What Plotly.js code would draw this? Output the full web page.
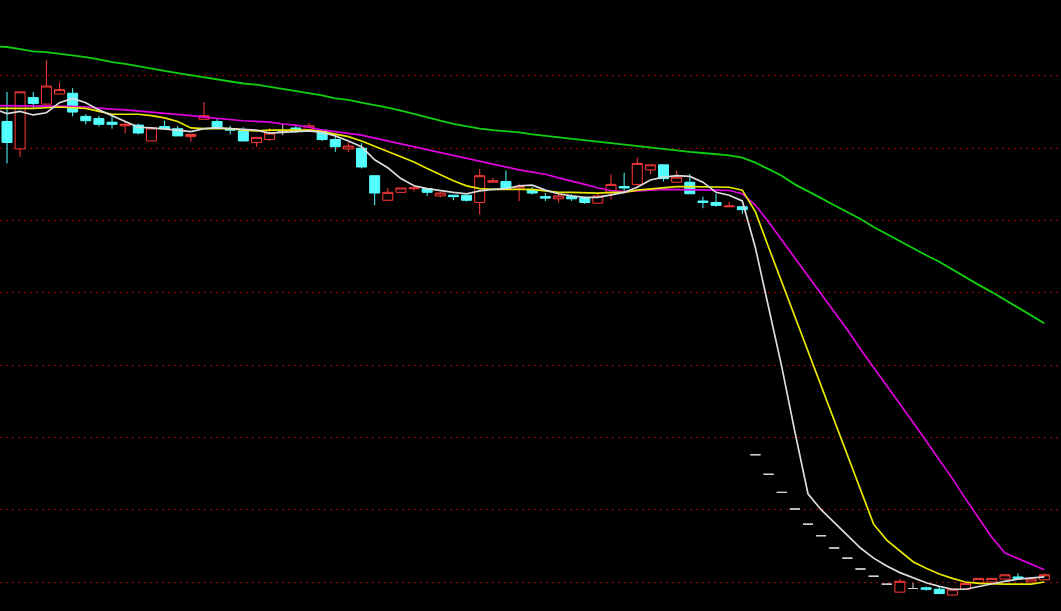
<!DOCTYPE html>
<html><head><meta charset="utf-8">
<script src="https://cdn.plot.ly/plotly-3.0.1.min.js"></script>
<style>html,body{margin:0;padding:0;background:#000;overflow:hidden}#chart{width:1061px;height:611px}</style>
</head><body><div id="chart"></div>
<script>
// Daily candles (index 0..79)
const openP = [7.37,6.99,7.70,7.61,7.75,7.76,7.44,7.41,7.36,7.31,
  7.32,7.10,7.30,7.27,7.16,7.40,7.37,7.27,7.24,7.08,
  7.12,7.24,7.28,7.26,7.25,7.12,6.99,7.00,6.62,6.28,
  6.39,6.44,6.44,6.34,6.35,6.35,6.25,6.53,6.54,6.45,
  6.43,6.33,6.30,6.33,6.31,6.24,6.38,6.47,6.50,6.70,
  6.77,6.53,6.53,6.27,6.25,6.19,6.19,2.76,2.49,2.24,
  2.01,1.80,1.64,1.47,1.33,1.18,1.08,0.97,0.86,0.91,
  0.92,0.90,0.82,0.90,0.99,1.00,1.04,1.07,1.00,1.03];
const highP = [7.78,7.78,7.78,8.22,7.91,7.83,7.47,7.45,7.46,7.37,
  7.34,7.28,7.38,7.31,7.19,7.64,7.41,7.31,7.29,7.15,
  7.28,7.34,7.32,7.35,7.25,7.18,7.08,7.07,6.62,6.45,
  6.45,6.49,6.44,6.40,6.35,6.36,6.71,6.59,6.69,6.51,
  6.46,6.38,6.38,6.36,6.33,6.38,6.64,6.66,6.87,6.77,
  6.77,6.69,6.64,6.33,6.37,6.26,6.19,2.76,2.49,2.24,
  2.01,1.80,1.64,1.47,1.33,1.18,1.08,0.97,1.04,0.99,
  0.94,0.94,0.90,0.98,1.05,1.05,1.10,1.12,1.04,1.12];
const lowP = [6.79,6.88,7.55,7.61,7.75,7.44,7.33,7.30,7.27,7.21,
  7.19,7.10,7.26,7.17,7.09,7.40,7.28,7.19,7.10,7.02,
  7.10,7.18,7.21,7.26,7.10,6.95,6.95,6.72,6.21,6.28,
  6.39,6.40,6.34,6.32,6.28,6.26,6.08,6.53,6.45,6.27,
  6.36,6.27,6.25,6.27,6.23,6.24,6.29,6.38,6.48,6.64,
  6.54,6.53,6.37,6.17,6.19,6.19,6.09,2.76,2.49,2.24,
  2.01,1.80,1.64,1.47,1.33,1.18,1.08,0.97,0.86,0.91,
  0.88,0.84,0.82,0.90,0.99,1.00,1.04,1.05,1.00,1.03];
const closeP = [7.08,7.78,7.62,7.86,7.81,7.50,7.38,7.33,7.33,7.33,
  7.21,7.28,7.27,7.17,7.19,7.45,7.28,7.25,7.10,7.15,
  7.21,7.24,7.25,7.31,7.12,7.02,7.03,6.74,6.38,6.39,
  6.45,6.45,6.39,6.38,6.33,6.28,6.62,6.55,6.45,6.47,
  6.38,6.31,6.34,6.30,6.25,6.34,6.50,6.45,6.79,6.77,
  6.58,6.60,6.37,6.25,6.21,6.20,6.15,2.76,2.49,2.24,
  2.01,1.80,1.64,1.47,1.33,1.18,1.08,0.97,1.01,0.91,
  0.90,0.84,0.90,0.98,1.05,1.05,1.10,1.05,1.04,1.10];

// Moving averages (index -1..79)
const ma5 = [7.54,7.48,7.51,7.46,7.49,7.63,7.69,7.63,7.53,7.45,7.36,
  7.29,7.28,7.27,7.25,7.23,7.27,7.28,7.27,7.26,7.25,
  7.21,7.22,7.23,7.24,7.22,7.17,7.10,7.02,6.84,6.73,
  6.58,6.48,6.44,6.41,6.39,6.37,6.41,6.43,6.44,6.48,
  6.49,6.42,6.37,6.34,6.32,6.32,6.36,6.39,6.46,6.56,
  6.60,6.62,6.61,6.53,6.39,6.35,6.27,5.62,4.80,3.98,
  3.08,2.22,2.00,1.82,1.64,1.47,1.33,1.22,1.13,1.06,
  0.99,0.94,0.90,0.90,0.94,0.97,1.01,1.04,1.06,1.07];
const ma10 = [7.55,7.55,7.54,7.55,7.56,7.57,7.56,7.55,7.51,7.47,7.47,
  7.47,7.45,7.42,7.37,7.28,7.27,7.27,7.27,7.25,7.24,
  7.25,7.25,7.26,7.25,7.23,7.20,7.16,7.10,7.03,6.96,
  6.89,6.81,6.72,6.63,6.55,6.48,6.44,6.43,6.43,6.43,
  6.43,6.41,6.39,6.39,6.38,6.38,6.39,6.39,6.42,6.44,
  6.46,6.47,6.47,6.47,6.47,6.46,6.42,6.12,5.63,5.15,
  4.68,4.20,3.72,3.25,2.77,2.27,1.80,1.58,1.43,1.28,
  1.19,1.11,1.05,1.00,0.98,0.97,0.97,0.97,0.97,1.00];
const ma20 = [7.59,7.59,7.59,7.59,7.59,7.58,7.58,7.57,7.55,7.54,7.53,
  7.515,7.50,7.49,7.47,7.45,7.43,7.41,7.39,7.38,7.37,
  7.36,7.335,7.32,7.29,7.25,7.23,7.21,7.18,7.14,7.10,
  7.06,7.02,6.97,6.93,6.89,6.85,6.81,6.77,6.73,6.70,
  6.67,6.64,6.59,6.55,6.50,6.45,6.415,6.40,6.415,6.42,
  6.43,6.43,6.43,6.43,6.42,6.415,6.37,6.21,5.98,5.73,
  5.48,5.23,4.98,4.73,4.49,4.22,3.97,3.72,3.46,3.21,
  2.95,2.69,2.43,2.15,1.89,1.62,1.40,1.32,1.24,1.17];
const ma60 = [8.41,8.40,8.37,8.34,8.33,8.31,8.29,8.26,8.23,8.19,8.165,
  8.13,8.10,8.07,8.04,8.01,7.985,7.95,7.92,7.895,7.88,
  7.85,7.83,7.80,7.76,7.73,7.69,7.67,7.63,7.60,7.56,
  7.52,7.47,7.425,7.38,7.335,7.30,7.27,7.25,7.24,7.22,
  7.19,7.17,7.15,7.13,7.11,7.09,7.065,7.045,7.024,7.003,
  6.99,6.97,6.95,6.934,6.92,6.90,6.87,6.80,6.71,6.62,
  6.50,6.41,6.31,6.21,6.12,6.02,5.91,5.81,5.72,5.62,
  5.52,5.43,5.32,5.22,5.11,5.01,4.90,4.79,4.68,4.58];

const gridLevels = [1,2,3,4,5,6,7,8];

const idx = openP.map((_, i) => i);
const maX = ma5.map((_, i) => i - 1);

function subset(cond) {
  const s = idx.filter(i => cond(openP[i], closeP[i]));
  return {x: s, open: s.map(i => openP[i]), high: s.map(i => highP[i]),
          low: s.map(i => lowP[i]), close: s.map(i => closeP[i])};
}
function candle(sub, col, fill) {
  return Object.assign({type: 'candlestick', hoverinfo: 'skip', showlegend: false,
    increasing: {line: {color: col, width: 1}, fillcolor: fill},
    decreasing: {line: {color: col, width: 1}, fillcolor: fill}}, sub);
}
const upC = candle(subset((o, c) => c > o), '#ff3a3a', 'rgba(0,0,0,0)');
const dnC = candle(subset((o, c) => c < o), '#54ffff', '#54ffff');
const flC = candle(subset((o, c) => c === o), '#d4d4d4', '#d4d4d4');

function maLine(y, col, w) {
  return {type: 'scatter', mode: 'lines', x: maX, y: y, hoverinfo: 'skip',
    line: {color: col, width: w}, showlegend: false};
}

const data = [upC, dnC, flC,
  maLine(ma60, '#10d010', 1.8),
  maLine(ma20, '#e000e0', 1.7),
  maLine(ma10, '#e8e800', 1.7),
  maLine(ma5, '#dcdcdc', 1.7)];

const layout = {
  width: 1061, height: 611,
  margin: {l: 0, r: 0, t: 0, b: 0, pad: 0},
  paper_bgcolor: '#000', plot_bgcolor: '#000',
  showlegend: false,
  boxgap: 0.24, boxgroupgap: 0,
  xaxis: {range: [-0.533, 80.27], showgrid: false, zeroline: false,
    showticklabels: false, ticks: '', showline: false,
    rangeslider: {visible: false}, fixedrange: true},
  yaxis: {range: [0.599, 9.05], tickvals: gridLevels, showticklabels: false,
    ticks: '', showgrid: true, gridcolor: '#a00000', griddash: '2px,4px',
    gridwidth: 1, zeroline: false, showline: false, fixedrange: true}
};

Plotly.newPlot('chart', data, layout, {displayModeBar: false, staticPlot: true});
</script>
</body></html>
